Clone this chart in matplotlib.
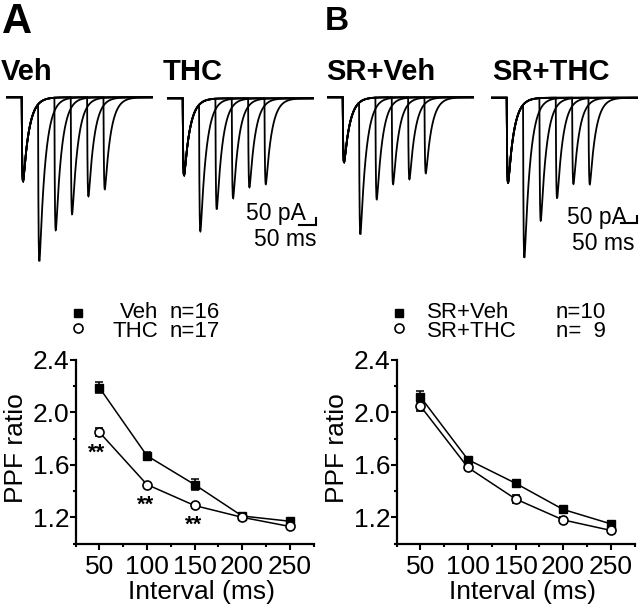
import numpy as np
import matplotlib
matplotlib.use("Agg")
import matplotlib.pyplot as plt
from matplotlib import transforms
from matplotlib.ticker import MultipleLocator

plt.rcParams["font.family"] = ["Liberation Sans", "DejaVu Sans"]

# ---- data ----
intervals = [50, 100, 150, 200, 250]

veh_ppf = [2.19, 1.67, 1.45, 1.21, 1.17]
veh_err = [0.04, 0.03, 0.04, 0.02, 0.02]
thc_ppf = [1.85, 1.45, 1.29, 1.20, 1.13]
thc_err = [0.03, 0.01, 0.02, 0.02, 0.01]

srveh_ppf = [2.12, 1.64, 1.46, 1.26, 1.15]
srveh_err = [0.04, 0.02, 0.02, 0.02, 0.02]
srthc_ppf = [2.05, 1.58, 1.34, 1.18, 1.10]
srthc_err = [0.04, 0.02, 0.03, 0.02, 0.02]

# significance marks (x, y) in panel A
star_x = [47, 99, 149]
star_y = [1.74, 1.34, 1.19]

# example traces: first EPSC and second EPSC peak (pA) per interval
trace_names = ["Veh", "THC", "SR+Veh", "SR+THC"]
first_peak = [600, 550, 464, 607]
veh_second = [1171, 950, 836, 707, 657]
thc_second = [950, 793, 714, 636, 614]
srveh_second = [979, 729, 621, 586, 543]
srthc_second = [1143, 879, 719, 616, 619]
second_peaks = [veh_second, thc_second, srveh_second, srthc_second]

# ---- layout in pixels ----
W, H = 640, 604
fig = plt.figure(figsize=(W / 100, H / 100), dpi=100)


def box(l, t, w, h):
    return [l / W, 1 - (t + h) / H, w / W, h / H]


def fx(x):
    return x / W


def fy(y):
    return 1 - y / H


# ---- traces ----
PX_MS, PX_PA = 0.327, 0.14
T_END, STIM1 = 450, 48
TAU_R, TAU_D = 1.5, 18.0

t = np.arange(0, T_END, 0.2)
tk = np.arange(0, 200, 0.05)
kraw = np.exp(-tk / TAU_D) - np.exp(-tk / TAU_R)
kmax = kraw.max()
tpk = tk[kraw.argmax()]


def kernel(tt):
    tt = np.asarray(tt, dtype=float)
    out = np.zeros_like(tt)
    m = tt >= 0
    out[m] = (np.exp(-tt[m] / TAU_D) - np.exp(-tt[m] / TAU_R)) / kmax
    return out


trace_left = [6.0, 167.0, 327.0, 491.0]
trace_base = [97.3, 98.3, 97.3, 97.7]
trace_title_x = [1, 163, 326, 491.7]
trace_axes = []
for i, name in enumerate(trace_names):
    ax = fig.add_axes(box(trace_left[i], trace_base[i] - 100 * PX_PA,
                          T_END * PX_MS, 1400 * PX_PA))
    ax.set_xlim(0, T_END)
    ax.set_ylim(-1300, 100)
    ax.axis("off")
    a1 = first_peak[i]
    for iv, pk in zip(intervals, second_peaks[i]):
        a2 = pk - a1 * float(kernel([iv + tpk])[0])
        y = -a1 * kernel(t - STIM1) - a2 * kernel(t - STIM1 - iv)
        ax.plot(t, y, color="black", lw=1.3, solid_joinstyle="miter")
    trace_axes.append(ax)
    fig.text(fx(trace_title_x[i]), fy(80), name, fontsize=21,
             fontweight="bold", ha="left", va="baseline")


def scale_bar(ax, x0, y0, tx_pa, ty_pa, tx_ms, ty_ms):
    ax.plot([x0, x0 + 50, x0 + 50], [y0, y0, y0 + 50], color="black",
            lw=1.5, clip_on=False, solid_joinstyle="miter")
    ax.text(tx_pa, ty_pa, "50 pA", fontsize=16.5, ha="right",
            va="baseline", clip_on=False)
    ax.text(tx_ms, ty_ms, "50 ms", fontsize=16.5, ha="right",
            va="baseline", clip_on=False)


scale_bar(trace_axes[1], 405, -905, 425, -869, 456, -1055)
scale_bar(trace_axes[3], 398, -897, 417, -904, 440, -1088)

# panel letters
fig.text(fx(2), fy(33), "A", fontsize=30, fontweight="bold",
         ha="left", va="baseline")
fig.text(fx(325), fy(29.5), "B", fontsize=24, fontweight="bold",
         ha="left", va="baseline")


# ---- PPF plots ----
def ppf_panel(left, s1, e1, s2, e2, lab1, lab2, n1, n2, lab_ha, lab_x):
    ax = fig.add_axes(box(left, 360, 238, 183.5))
    ax.errorbar(intervals, s1, yerr=e1, color="black", lw=1.1, marker="s",
                ms=5.5, mfc="black", mec="black", capsize=2.8,
                elinewidth=1.1, capthick=1.1, zorder=3)
    ax.errorbar(intervals, s2, yerr=e2, color="black", lw=1.1, marker="o",
                ms=6.5, mfc="white", mec="black", mew=1.2, capsize=2.8,
                elinewidth=1.1, capthick=1.1, zorder=4)
    ax.set_xlim(25, 275)
    ax.set_ylim(1.0, 2.4)
    ax.set_xticks(intervals)
    ax.set_yticks([1.2, 1.6, 2.0, 2.4])
    ax.xaxis.set_minor_locator(MultipleLocator(25))
    ax.yaxis.set_minor_locator(MultipleLocator(0.2))
    ax.set_yticklabels(["1.2", "1.6", "2.0", "2.4"])
    for s in ["top", "right"]:
        ax.spines[s].set_visible(False)
    for s in ["left", "bottom"]:
        ax.spines[s].set_linewidth(1.6)
    ax.tick_params(which="major", direction="out", length=4, width=1.5,
                   labelsize=19)
    ax.tick_params(which="minor", direction="out", length=2.2, width=1.5)
    ax.tick_params(axis="y", which="major", pad=0.5)
    ax.tick_params(axis="x", which="major", pad=4.5)
    ax.set_ylabel("PPF ratio", fontsize=19)
    ax.set_xlabel("Interval (ms)", fontsize=19)
    ax.yaxis.set_label_coords(-0.2, 0.52)
    ax.xaxis.set_label_coords(0.53, -0.2)

    # legend
    mk_x = left + 2.2
    ax.plot([fx(mk_x)], [fy(313.3)], "s", ms=5.5, color="black",
            transform=fig.transFigure, clip_on=False)
    ax.plot([fx(mk_x)], [fy(327.7)], "o", ms=6.5, mfc="white", mec="black",
            mew=1.2, transform=fig.transFigure, clip_on=False)
    n_x = left + 94.5 if lab_ha == "right" else left + 159
    fig.text(fx(lab_x), fy(318), lab1, fontsize=16, ha=lab_ha,
             va="baseline")
    fig.text(fx(lab_x), fy(337), lab2, fontsize=16, ha=lab_ha,
             va="baseline")
    fig.text(fx(n_x), fy(318), n1, fontsize=16, ha="left", va="baseline")
    fig.text(fx(n_x), fy(337), n2, fontsize=16, ha="left", va="baseline")
    return ax


axA = ppf_panel(75.5, veh_ppf, veh_err, thc_ppf, thc_err, "Veh", "THC",
                "n=16", "n=17", "right", 158)
axB = ppf_panel(396.5, srveh_ppf, srveh_err, srthc_ppf, srthc_err,
                "SR+Veh", "SR+THC", "n=10", "n=  9", "left", 427)

star_tr = transforms.offset_copy(axA.transData, fig=fig, y=-8.5,
                                 units="points")
for sx, sy in zip(star_x, star_y):
    axA.text(sx, sy, "**", fontsize=16, fontweight="bold", ha="center",
             va="baseline", transform=star_tr)

fig.savefig("out.png", dpi=100)
